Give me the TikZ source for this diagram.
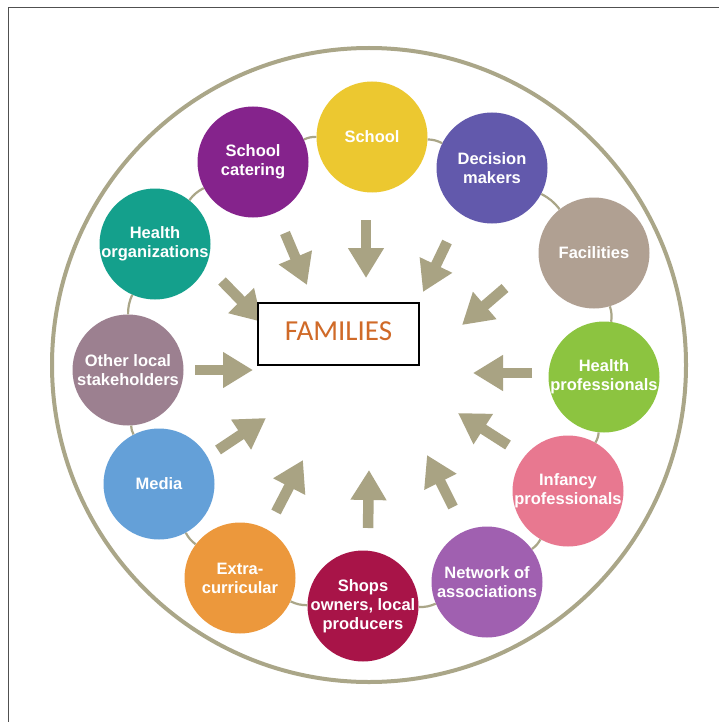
\documentclass[tikz,border=0pt]{standalone}
\usepackage{fontspec}
\newfontfamily\lsans{Liberation Sans}
\newfontfamily\calib{Carlito}
\usetikzlibrary{arrows.meta}
\definecolor{ringc}{HTML}{AAA688}
\definecolor{arrc}{HTML}{A9A383}
\definecolor{framec}{HTML}{505050}
\definecolor{famc}{HTML}{D06A28}
\definecolor{cschool}{HTML}{ECC830}
\definecolor{ccat}{HTML}{85238C}
\definecolor{cdec}{HTML}{6259AC}
\definecolor{cfac}{HTML}{B0A092}
\definecolor{chp}{HTML}{8CC440}
\definecolor{cinf}{HTML}{E87890}
\definecolor{cnet}{HTML}{A060B0}
\definecolor{cshop}{HTML}{A81448}
\definecolor{cext}{HTML}{EC983C}
\definecolor{cmed}{HTML}{64A0D8}
\definecolor{coth}{HTML}{9C8090}
\definecolor{chorg}{HTML}{14A08C}
\begin{document}
\begin{tikzpicture}[x=1pt,y=-1pt,
  circ/.style={circle, minimum size=111pt, inner sep=0pt, fill=#1},
  lbl/.style={text=white, font=\lsans\bfseries\fontsize{16.5}{19}\selectfont, align=center, inner sep=0pt},
  ring/.style={draw=ringc, line width=2.2pt},
  blockarrow/.style={draw=arrc, line width=10.5pt, -{Triangle[width=34pt,length=30pt]}},
  famtext/.style={text=famc, font=\calib\fontsize{29}{35}\selectfont, inner sep=0pt}]
\useasboundingbox (0,0) rectangle (719,722);
\fill[white] (0,0) rectangle (719,722);
\draw[framec, line width=1.5pt] (8.5,722) -- (8.5,7.5) -- (719,7.5);
\draw[ringc, line width=4pt] (369,365) circle[radius=317];

\node[circ=cschool] (school) at (372,137) {};
\node[lbl] at (school) {School};
\node[circ=cdec] (dec) at (492,168) {};
\node[lbl] at (dec) {Decision\\makers};
\node[circ=cfac] (fac) at (594,253) {};
\node[lbl] at (fac) {Facilities};
\node[circ=chp] (hp) at (604,377) {};
\node[lbl] at (hp) {Health\\professionals};
\node[circ=cinf] (inf) at (568,491) {};
\node[lbl] at (inf) {Infancy\\professionals};
\node[circ=cnet] (net) at (487,582) {};
\node[lbl] at (net) {Network of\\associations};
\node[circ=cshop] (shop) at (363,606) {};
\node[lbl] at (shop) {Shops\\owners, local\\producers};
\node[circ=cext] (ext) at (240,578) {};
\node[lbl] at (ext) {Extra-\\curricular};
\node[circ=cmed] (med) at (159,484) {};
\node[lbl] at (med) {Media};
\node[circ=coth] (oth) at (128,370) {};
\node[lbl] at (oth) {Other local\\stakeholders};
\node[circ=chorg] (horg) at (155,244) {};
\node[lbl] at (horg) {Health\\organizations};
\node[circ=ccat] (cat) at (253,162) {};
\node[lbl] at (cat) {School\\catering};

\draw[ring] (school) to[bend left=12] (dec);
\draw[ring] (dec) to[bend left=12] (fac);
\draw[ring] (fac) to[bend left=12] (hp);
\draw[ring] (hp) to[bend left=12] (inf);
\draw[ring] (inf) to[bend left=12] (net);
\draw[ring] (net) to[bend left=12] (shop);
\draw[ring] (shop) to[bend left=12] (ext);
\draw[ring] (ext) to[bend left=12] (med);
\draw[ring] (med) to[bend left=12] (oth);
\draw[ring] (oth) to[bend left=12] (horg);
\draw[ring] (horg) to[bend left=12] (cat);
\draw[ring] (cat) to[bend left=12] (school);

\foreach \n/\tx/\ty/\hx/\hy in {
  1/285/233/307/285, 2/366/220/366/278, 3/447/242/423/292,
  4/505/288/462/325, 5/532/373/473/373, 6/508/445/458/413,
  7/453/507/427/455, 8/368/528/369/470, 9/276/512/303/460,
  10/218/450/266/418, 11/195/370/253/370, 12/222/281/262/322}{
  \coordinate (t\n) at (\tx,\ty);
  \coordinate (h\n) at (\hx,\hy);
  \draw[blockarrow] (t\n) -- (h\n);
}

\node[draw=black, fill=white, line width=2pt, minimum width=161pt, minimum height=62pt, inner sep=0pt] (fam) at (338.5,334) {};
\node[famtext] at ([yshift=2.5pt]fam.center) {FAMILIES};
\end{tikzpicture}
\end{document}
